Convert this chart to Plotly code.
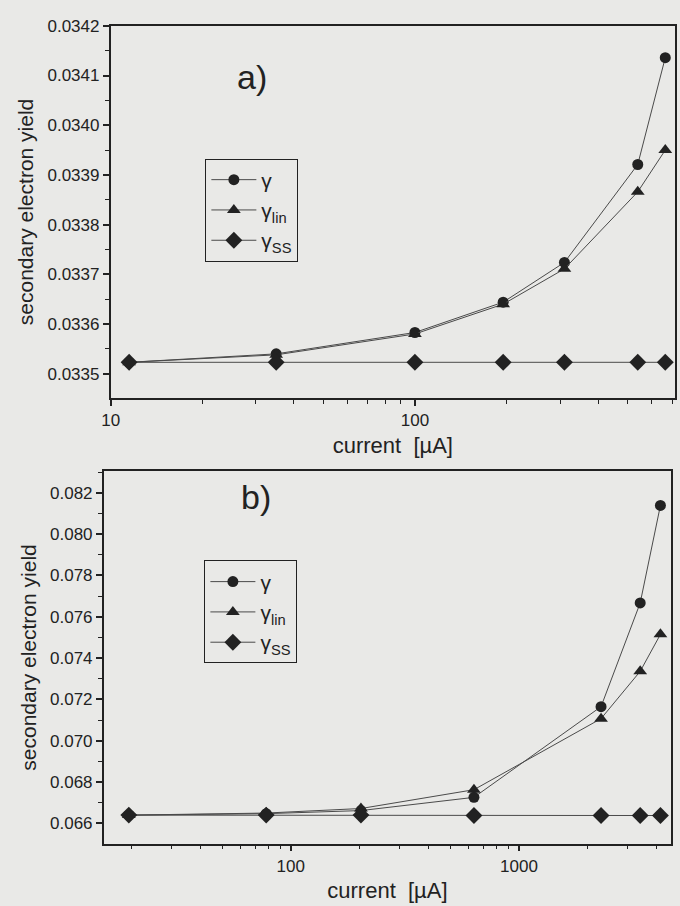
import plotly.graph_objects as go

# ---- data panel a ----
current_a = [11.5, 35, 100, 195, 310, 540, 665]
gamma_a = [0.033523, 0.033540, 0.033583, 0.033644, 0.033724, 0.033921, 0.034136]
gamma_lin_a = [0.033523, 0.033538, 0.033580, 0.033640, 0.033711, 0.033866, 0.033950]
gamma_ss_a = [0.033523, 0.033523, 0.033523, 0.033523, 0.033523, 0.033523, 0.033523]

# ---- data panel b ----
current_b = [19.5, 78, 203, 635, 2290, 3400, 4170]
gamma_b = [0.06640, 0.06647, 0.06662, 0.06726, 0.07165, 0.07667, 0.08139]
gamma_lin_b = [0.06640, 0.06650, 0.06672, 0.06763, 0.07107, 0.07336, 0.07515]
gamma_ss_b = [0.06640, 0.06640, 0.06640, 0.06638, 0.06638, 0.06638, 0.06638]

yticks_a = [0.0335, 0.0336, 0.0337, 0.0338, 0.0339, 0.0340, 0.0341, 0.0342]
yticks_b = [0.066, 0.068, 0.070, 0.072, 0.074, 0.076, 0.078, 0.080, 0.082]

names = ["γ", "γ<sub>lin</sub>", "γ<sub>SS</sub>"]
symbols = ["circle", "triangle-up", "diamond"]
sizes = [11, 12, 13]

W, H = 680, 906
BG = "#e9e9e7"
INK = "#222222"
LINE = "#4a4a4a"
FONT = "Liberation Sans, Arial, sans-serif"

fig = go.Figure()

series_a = [gamma_a, gamma_lin_a, gamma_ss_a]
series_b = [gamma_b, gamma_lin_b, gamma_ss_b]
for i in range(3):
    fig.add_trace(go.Scatter(
        x=current_a, y=series_a[i], mode="lines+markers", name=names[i],
        line=dict(color=LINE, width=1),
        marker=dict(symbol=symbols[i], size=sizes[i], color=INK),
        xaxis="x", yaxis="y", legend="legend"))
for i in range(3):
    fig.add_trace(go.Scatter(
        x=current_b, y=series_b[i], mode="lines+markers", name=names[i],
        line=dict(color=LINE, width=1),
        marker=dict(symbol=symbols[i], size=sizes[i], color=INK),
        xaxis="x2", yaxis="y2", legend="legend2"))

def px_x(v):
    return v / W

def px_y(v):
    return 1 - v / H

common_ax = dict(showgrid=False, zeroline=False, showline=True, linecolor=INK,
                 linewidth=1.5, mirror=True, ticks="outside", tickcolor=INK,
                 tickwidth=1.5, ticklen=6,
                 tickfont=dict(family=FONT, size=17, color=INK))

xtitle_font = dict(family=FONT, size=22, color=INK)
ytitle_font = dict(family=FONT, size=21, color=INK)

xa = dict(common_ax, type="log", range=[1.0, 2.855],
          domain=[px_x(103), px_x(675)], anchor="y",
          tickvals=[10, 100], ticktext=["10", "100"],
          minor=dict(ticks="outside", ticklen=4, tickcolor=INK, tickwidth=1.2,
                     tickvals=[20, 30, 40, 50, 60, 70, 80, 90, 200, 300, 400, 500, 600, 700]),
          title=dict(text="current  [µA]", font=xtitle_font, standoff=8))
ya = dict(common_ax, range=[0.033451, 0.0342],
          domain=[px_y(393), px_y(17)], anchor="x",
          tickvals=yticks_a, ticktext=["%.4f" % v for v in yticks_a],
          minor=dict(ticks="outside", ticklen=4, tickcolor=INK, tickwidth=1.2, dtick=0.00005),
          title=dict(text="secondary electron yield", font=ytitle_font, standoff=8))

xb = dict(common_ax, type="log", range=[1.18, 3.667],
          domain=[px_x(96), px_x(671)], anchor="y2",
          tickvals=[100, 1000], ticktext=["100", "1000"],
          minor=dict(ticks="outside", ticklen=4, tickcolor=INK, tickwidth=1.2,
                     tickvals=[20, 30, 40, 50, 60, 70, 80, 90, 200, 300, 400, 500, 600, 700, 800, 900,
                               2000, 3000, 4000]),
          title=dict(text="current  [µA]", font=xtitle_font, standoff=8))
yb = dict(common_ax, range=[0.06502, 0.08304],
          domain=[px_y(843), px_y(467)], anchor="x2",
          tickvals=yticks_b, ticktext=["%.3f" % v for v in yticks_b],
          minor=dict(ticks="outside", ticklen=4, tickcolor=INK, tickwidth=1.2, dtick=0.001),
          title=dict(text="secondary electron yield", font=ytitle_font, standoff=8))

leg_common = dict(bgcolor=BG, bordercolor=INK, borderwidth=1,
                  font=dict(family=FONT, size=21, color=INK),
                  xanchor="left", yanchor="top", tracegroupgap=0,
                  itemwidth=45)

fig.update_layout(
    width=W, height=H,
    margin=dict(l=0, r=0, t=0, b=0),
    paper_bgcolor=BG, plot_bgcolor=BG,
    xaxis=xa, yaxis=ya, xaxis2=xb, yaxis2=yb,
    legend=dict(leg_common, x=px_x(199), y=px_y(151)),
    legend2=dict(leg_common, x=px_x(198), y=px_y(557)),
    showlegend=True,
    annotations=[
        dict(text="a)", x=px_x(246), y=px_y(47), xref="paper", yref="paper",
             showarrow=False, font=dict(family=FONT, size=34, color=INK)),
        dict(text="b)", x=px_x(250), y=px_y(493), xref="paper", yref="paper",
             showarrow=False, font=dict(family=FONT, size=34, color=INK)),
    ],
)

fig.write_html("out.html", config={"displayModeBar": False},
               post_script="document.body.style.margin='0';document.body.style.overflow='hidden';")
